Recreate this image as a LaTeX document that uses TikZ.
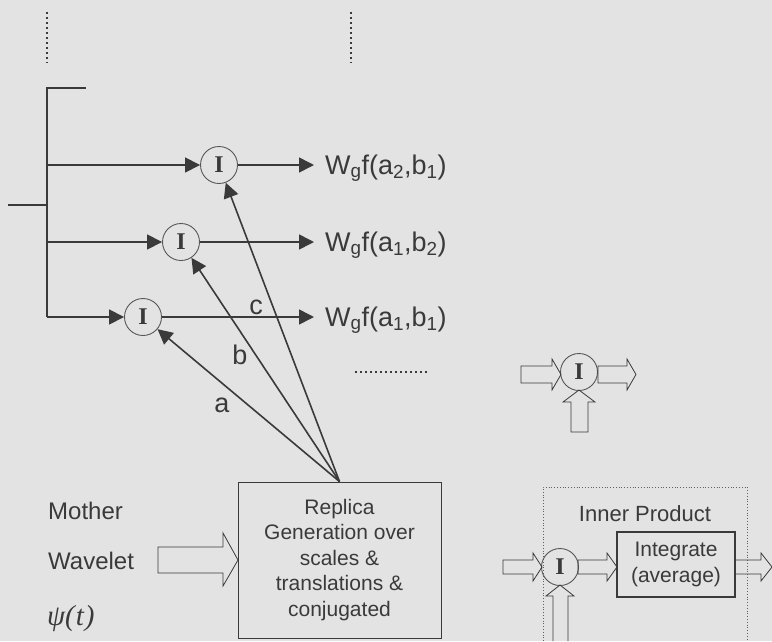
\documentclass[tikz,border=0pt]{standalone}
\usepackage{fontspec}
\setmainfont{Liberation Sans}
\newfontfamily\serifI{Liberation Serif}
\usetikzlibrary{arrows.meta}
\definecolor{bg}{HTML}{E3E3E3}
\definecolor{ink}{HTML}{3A3A3A}
\tikzset{
  conn/.style={draw=ink, line width=1.6pt, -{Triangle[length=15pt,width=15pt]}},
  plain/.style={draw=ink, line width=1.6pt},
  circI/.style={circle, draw=ink!85, line width=0.9pt, minimum size=37pt, inner sep=0pt, font=\serifI\fontsize{24}{24}\selectfont\bfseries, text=ink},
  hol/.style={draw=ink, line width=0.8pt, line join=miter},
  lbl/.style={text=ink, inner sep=0pt},
  box/.style={draw=ink, line width=0.9pt, align=center, text=ink, font=\fontsize{21}{25.5}\selectfont},
  dotv/.style={draw=ink, line width=1.8pt, dash pattern=on 2pt off 3pt},
}
\begin{document}
\begin{tikzpicture}[x=1pt,y=-1pt]
\fill[bg] (0,0) rectangle (772,641);
\useasboundingbox (0,0) rectangle (772,641);
% dotted verticals
\coordinate (d1a) at (47,12); \coordinate (d1b) at (47,63);
\coordinate (d2a) at (351,12); \coordinate (d2b) at (351,63);
\draw[dotv] (d1a) -- (d1b);
\draw[dotv] (d2a) -- (d2b);
% bracket
\coordinate (btop) at (47,88); \coordinate (btopr) at (86,88);
\coordinate (bbot) at (47,317); \coordinate (bstub) at (8,205); \coordinate (bmid) at (47,205);
\coordinate (r1) at (47,165); \coordinate (r2) at (47,242);
\draw[plain] (btopr) -- (btop) -- (bbot);
\draw[plain] (bstub) -- (bmid);
% circles
\node[circI] (c1) at (219,165) {I};
\node[circI] (c2) at (181,242) {I};
\node[circI] (c3) at (143,317) {I};
\draw[conn] (r1) -- (c1);
\draw[conn] (r2) -- (c2);
\draw[conn] (bbot) -- (c3);
% outputs
\node[lbl, anchor=base west, font=\fontsize{27}{27}\selectfont] (o1) at (325,174) {W\textsubscript{g}f(a\textsubscript{2},b\textsubscript{1})};
\node[lbl, anchor=base west, font=\fontsize{27}{27}\selectfont] (o2) at (325,251) {W\textsubscript{g}f(a\textsubscript{1},b\textsubscript{2})};
\node[lbl, anchor=base west, font=\fontsize{27}{27}\selectfont] (o3) at (325,326) {W\textsubscript{g}f(a\textsubscript{1},b\textsubscript{1})};
\draw[conn] (c1) -- ([xshift=-11pt]o1.base west |- c1);
\draw[conn] (c2) -- ([xshift=-11pt]o2.base west |- c2);
\draw[conn] (c3) -- ([xshift=-11pt]o3.base west |- c3);
\coordinate (h1) at (355,372); \coordinate (h2) at (428,372);
\draw[draw=ink, line width=1.6pt, dash pattern=on 2pt off 3pt] (h1) -- (h2);
% replica box
\node[box, minimum width=203pt, minimum height=156pt, inner sep=0pt] (rep) at (339.5,560) {Replica\\Generation over\\scales \&\\translations \&\\conjugated};
\draw[conn] (rep.north) -- (c1);
\draw[conn] (rep.north) -- (c2);
\draw[conn] (rep.north) -- (c3);
\node[lbl, font=\fontsize{27}{27}\selectfont] (lc) at (256,307) {c};
\node[lbl, font=\fontsize{27}{27}\selectfont] (lb) at (240,355) {b};
\node[lbl, font=\fontsize{27}{27}\selectfont] (la) at (222,405) {a};
% mother wavelet
\node[lbl, anchor=base west, font=\fontsize{24}{24}\selectfont] (mo) at (48,519) {Mother};
\node[lbl, anchor=base west, font=\fontsize{24}{24}\selectfont] (wa) at (48,569) {Wavelet};
\node[lbl, anchor=base west, font=\serifI\itshape\fontsize{29}{29}\selectfont] (psi) at (47,625) {ψ(\kern1pt t\kern1pt)};
\draw[hol] (158,547) -- (223,547) -- (223,533) -- (238,560) -- (223,586) -- (223,573) -- (158,573) -- cycle;
% legend icon top right
\node[circI] (ci) at (579,372) {I};
\draw[hol] (521,366) -- (552,366) -- (552,359) -- (561,374.5) -- (552,390) -- (552,383) -- (521,383) -- cycle;
\draw[hol] (598,366) -- (627,366) -- (627,359) -- (636,374.5) -- (627,390) -- (627,383) -- (598,383) -- cycle;
\draw[hol] (571,432) -- (571,402) -- (563,402) -- (579,390) -- (595,402) -- (588,402) -- (588,432) -- cycle;
% inner product
\coordinate (ipa) at (543,641); \coordinate (ipb) at (543,487); \coordinate (ipc) at (747,487); \coordinate (ipd) at (747,641);
\draw[draw=ink!80, line width=0.8pt, dotted] (ipa) -- (ipb) -- (ipc) -- (ipd);
\node[lbl, font=\fontsize{22}{22}\selectfont, anchor=base] (ipt) at (645,521) {Inner Product};
\node[circI] (cb) at (560,567) {I};
\node[box, line width=1.2pt, minimum width=118pt, minimum height=65pt, inner sep=0pt] (integ) at (676,564.5) {Integrate\\(average)};
\draw[hol] (503,560) -- (533,560) -- (533,553) -- (542,567) -- (533,581) -- (533,574) -- (503,574) -- cycle;
\draw[hol] (578,560) -- (607,560) -- (607,553) -- (617,567) -- (607,581) -- (607,574) -- (578,574) -- cycle;
\draw[hol] (735,560) -- (761,560) -- (761,553) -- (772,567) -- (761,581) -- (761,574) -- (735,574) -- cycle;
\draw[hol] (553,641) -- (553,596) -- (546,596) -- (560,585) -- (574,596) -- (568,596) -- (568,641);
\end{tikzpicture}
\end{document}
